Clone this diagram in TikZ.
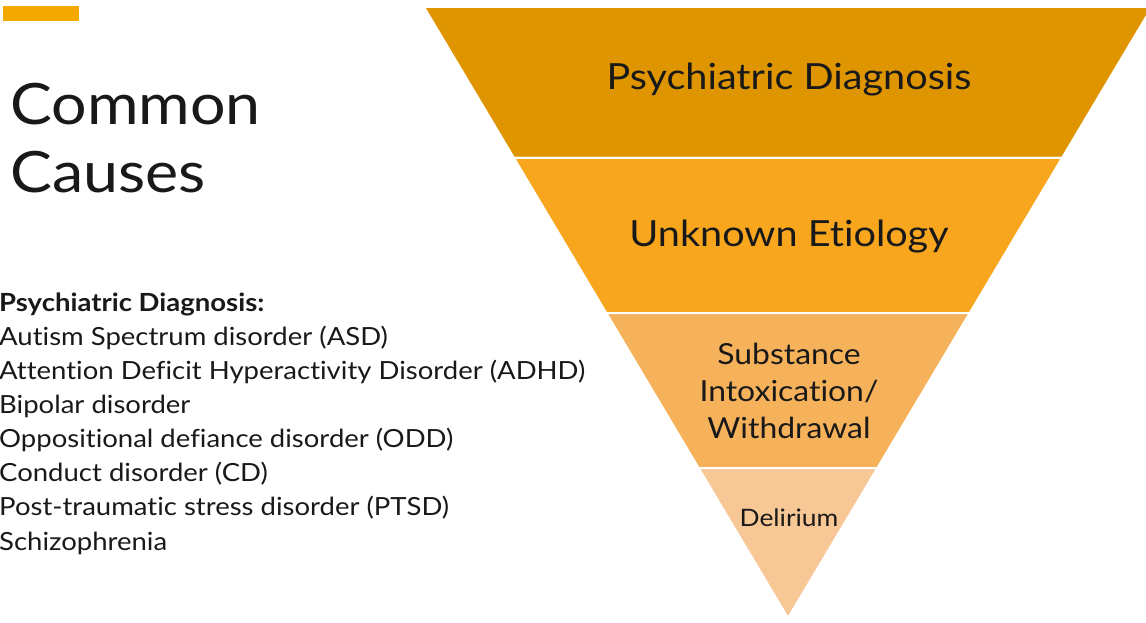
\documentclass[tikz,border=0pt]{standalone}
\usepackage{fontspec}
\setmainfont{Lato}[FakeStretch=1.1,Ligatures=NoCommon]
\begin{document}
\begin{tikzpicture}[x=1pt,y=-1pt,
  band/.style={draw=white,line width=2pt,line join=miter},
  bandlabel/.style={text=black!90,align=center,inner sep=0pt},
  listline/.style={anchor=base west,inner sep=0pt,font=\fontsize{25}{29}\selectfont,text=black!90}]
\definecolor{bandA}{HTML}{DE9500}
\definecolor{bandB}{HTML}{F8A61E}
\definecolor{bandC}{HTML}{F6B25A}
\definecolor{bandD}{HTML}{F7C795}
\definecolor{accent}{HTML}{F5A800}
\useasboundingbox (0,0) rectangle (1146,623);
\fill[white] (0,0) rectangle (1146,623);

% accent bar and title
\fill[accent] (3,6) rectangle (79,21);
\node[anchor=base west,inner sep=0pt,font=\fontsize{57}{68}\selectfont,text=black!90] (t1) at (10,125) {Common};
\node[anchor=base west,inner sep=0pt,font=\fontsize{57}{68}\selectfont,text=black!90] (t2) at (10,193) {Causes};

% funnel bands, top to bottom
\path[band,fill=bandA] (424,7) -- (1152,7) -- (1062,158) -- (514,158) -- cycle;
\path[band,fill=bandB] (514,158) -- (1062,158) -- (969.7,313) -- (606.3,313) -- cycle;
\path[band,fill=bandC] (606.3,313) -- (969.7,313) -- (877.4,468) -- (698.6,468) -- cycle;
\path[band,fill=bandD] (698.6,468) -- (877.4,468) -- (788,618) -- cycle;

\node[bandlabel,font=\fontsize{36}{40}\selectfont] (b1) at (789,80) {Psychiatric Diagnosis};
\node[bandlabel,font=\fontsize{36}{40}\selectfont] (b2) at (789,237) {Unknown Etiology};
\node[bandlabel,font=\fontsize{29}{37}\selectfont] (b3) at (789,391) {Substance\\Intoxication/\\Withdrawal};
\node[bandlabel,font=\fontsize{24}{28}\selectfont] (b4) at (789,518) {Delirium};

% list of diagnoses
\node[listline,font=\fontsize{25}{29}\selectfont\bfseries] (h) at (-1,311) {Psychiatric Diagnosis:};
\node[listline] (l1) at (-1,345) {Autism Spectrum disorder (ASD)};
\node[listline] (l2) at (-1,379) {Attention Deficit Hyperactivity Disorder (ADHD)};
\node[listline] (l3) at (-1,413) {Bipolar disorder};
\node[listline] (l4) at (-1,447) {Oppositional defiance disorder (ODD)};
\node[listline] (l5) at (-1,481) {Conduct disorder (CD)};
\node[listline] (l6) at (-1,515) {Post-traumatic stress disorder (PTSD)};
\node[listline] (l7) at (-1,550) {Schizophrenia};
\end{tikzpicture}
\end{document}
